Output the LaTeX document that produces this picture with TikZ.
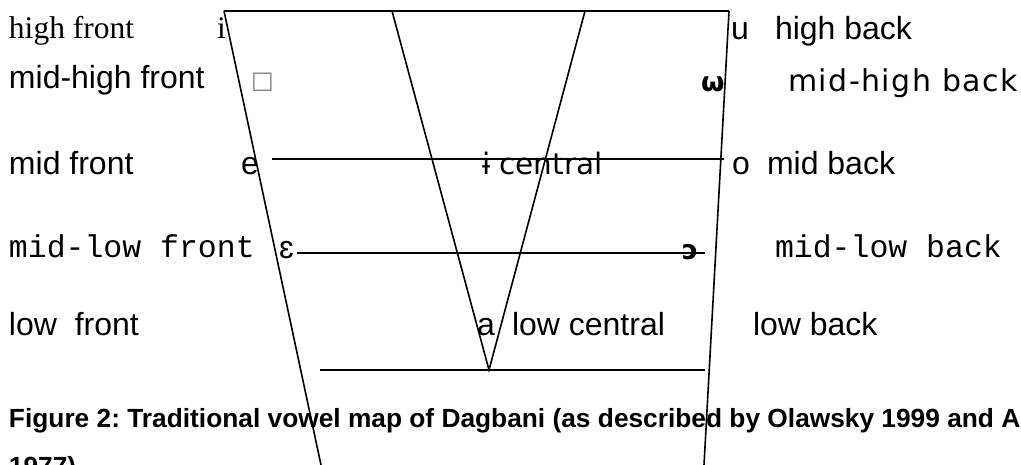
\documentclass[tikz,border=0pt]{standalone}
\usepackage{fontspec}
\setmainfont{Liberation Sans}
\newfontfamily\timesf{Liberation Serif}
\newfontfamily\courf{Liberation Mono}
\newfontfamily\dejaf{DejaVu Sans}
\newfontfamily\dejaw{DejaVu Sans}[LetterSpace=5]
\frenchspacing
\begin{document}
\begin{tikzpicture}[x=1pt,y=-1pt,
  edge/.style={draw=black,line width=1.6pt},
  lbl/.style={anchor=base west,inner sep=0pt,outer sep=0pt,font=\fontsize{32}{38}\selectfont},
  serlbl/.style={lbl,font=\timesf\fontsize{31.5}{37}\selectfont},
  monolbl/.style={lbl,font=\courf\fontsize{31.5}{37}\selectfont},
  dvlbl/.style={lbl,font=\dejaf\fontsize{29.5}{34}\selectfont},
  widelbl/.style={lbl,font=\dejaw\fontsize{30}{34}\selectfont},
  ipabold/.style={lbl,font=\dejaf\bfseries\fontsize{27}{30}\selectfont},
  caption/.style={anchor=base west,inner sep=0pt,outer sep=0pt,font=\bfseries\fontsize{26.3}{48}\selectfont}]
\useasboundingbox (0,0) rectangle (1021,465);
% frame coordinates
\coordinate (TL) at (224,11);
\coordinate (TR) at (729,11);
\coordinate (BL) at (321,465);
\coordinate (BR) at (704,465);
\coordinate (VL) at (392,11);
\coordinate (VR) at (585,11);
\coordinate (VB) at (489,370);
\coordinate (M1) at (272,159);
\coordinate (M2) at (724,159);
\coordinate (L1) at (297,253);
\coordinate (L2) at (705,253);
\coordinate (B1) at (320,370);
\coordinate (B2) at (705,370);
\draw[edge] (TL) -- (TR);
\draw[edge] (TL) -- (BL);
\draw[edge] (TR) -- (BR);
\draw[edge] (VL) -- (VB) -- (VR);
\draw[edge] (M1) -- (M2);
\draw[edge] (L1) -- (L2);
\draw[edge] (B1) -- (B2);
% labels
\node[serlbl] (hf) at (9,39) {high front};
\node[serlbl] (vi) at (217,39) {i};
\node[lbl] (u) at (731,40) {u};
\node[lbl] (hb) at (775,40) {high back};
\node[lbl] (mhf) at (9,89) {mid-high front};
\node[lbl,font=\dejaf\fontsize{24}{28}\selectfont,text=gray] (box) at (251,89) {□};
\node[ipabold] (om) at (701,92) {ω};
\node[widelbl] (mhb) at (788,92) {mid-high back};
\node[lbl] (mf) at (9,175) {mid front};
\node[lbl] (e) at (241,175) {e};
\node[dvlbl] (ic) at (482,175) {ɨ central};
\node[lbl] (o) at (732,175) {o};
\node[lbl] (mb) at (767,175) {mid back};
\node[monolbl] (mlf) at (9,258) {mid-low front};
\node[lbl] (eps) at (279,259) {ɛ};
\node[ipabold] (oo) at (682,260) {ɔ};
\node[monolbl] (mlb) at (775,258) {mid-low back};
\node[lbl] (lf) at (9,335) {low~~front};
\node[lbl] (a) at (477,335) {a};
\node[lbl] (lc) at (512,335) {low central};
\node[lbl] (lb) at (753,335) {low back};
\node[caption] (cap) at (9,427) {Figure 2: Traditional vowel map of Dagbani (as described by Olawsky 1999 and A};
\node[caption] (cap2) at (9,475) {1977)};
\end{tikzpicture}
\end{document}
